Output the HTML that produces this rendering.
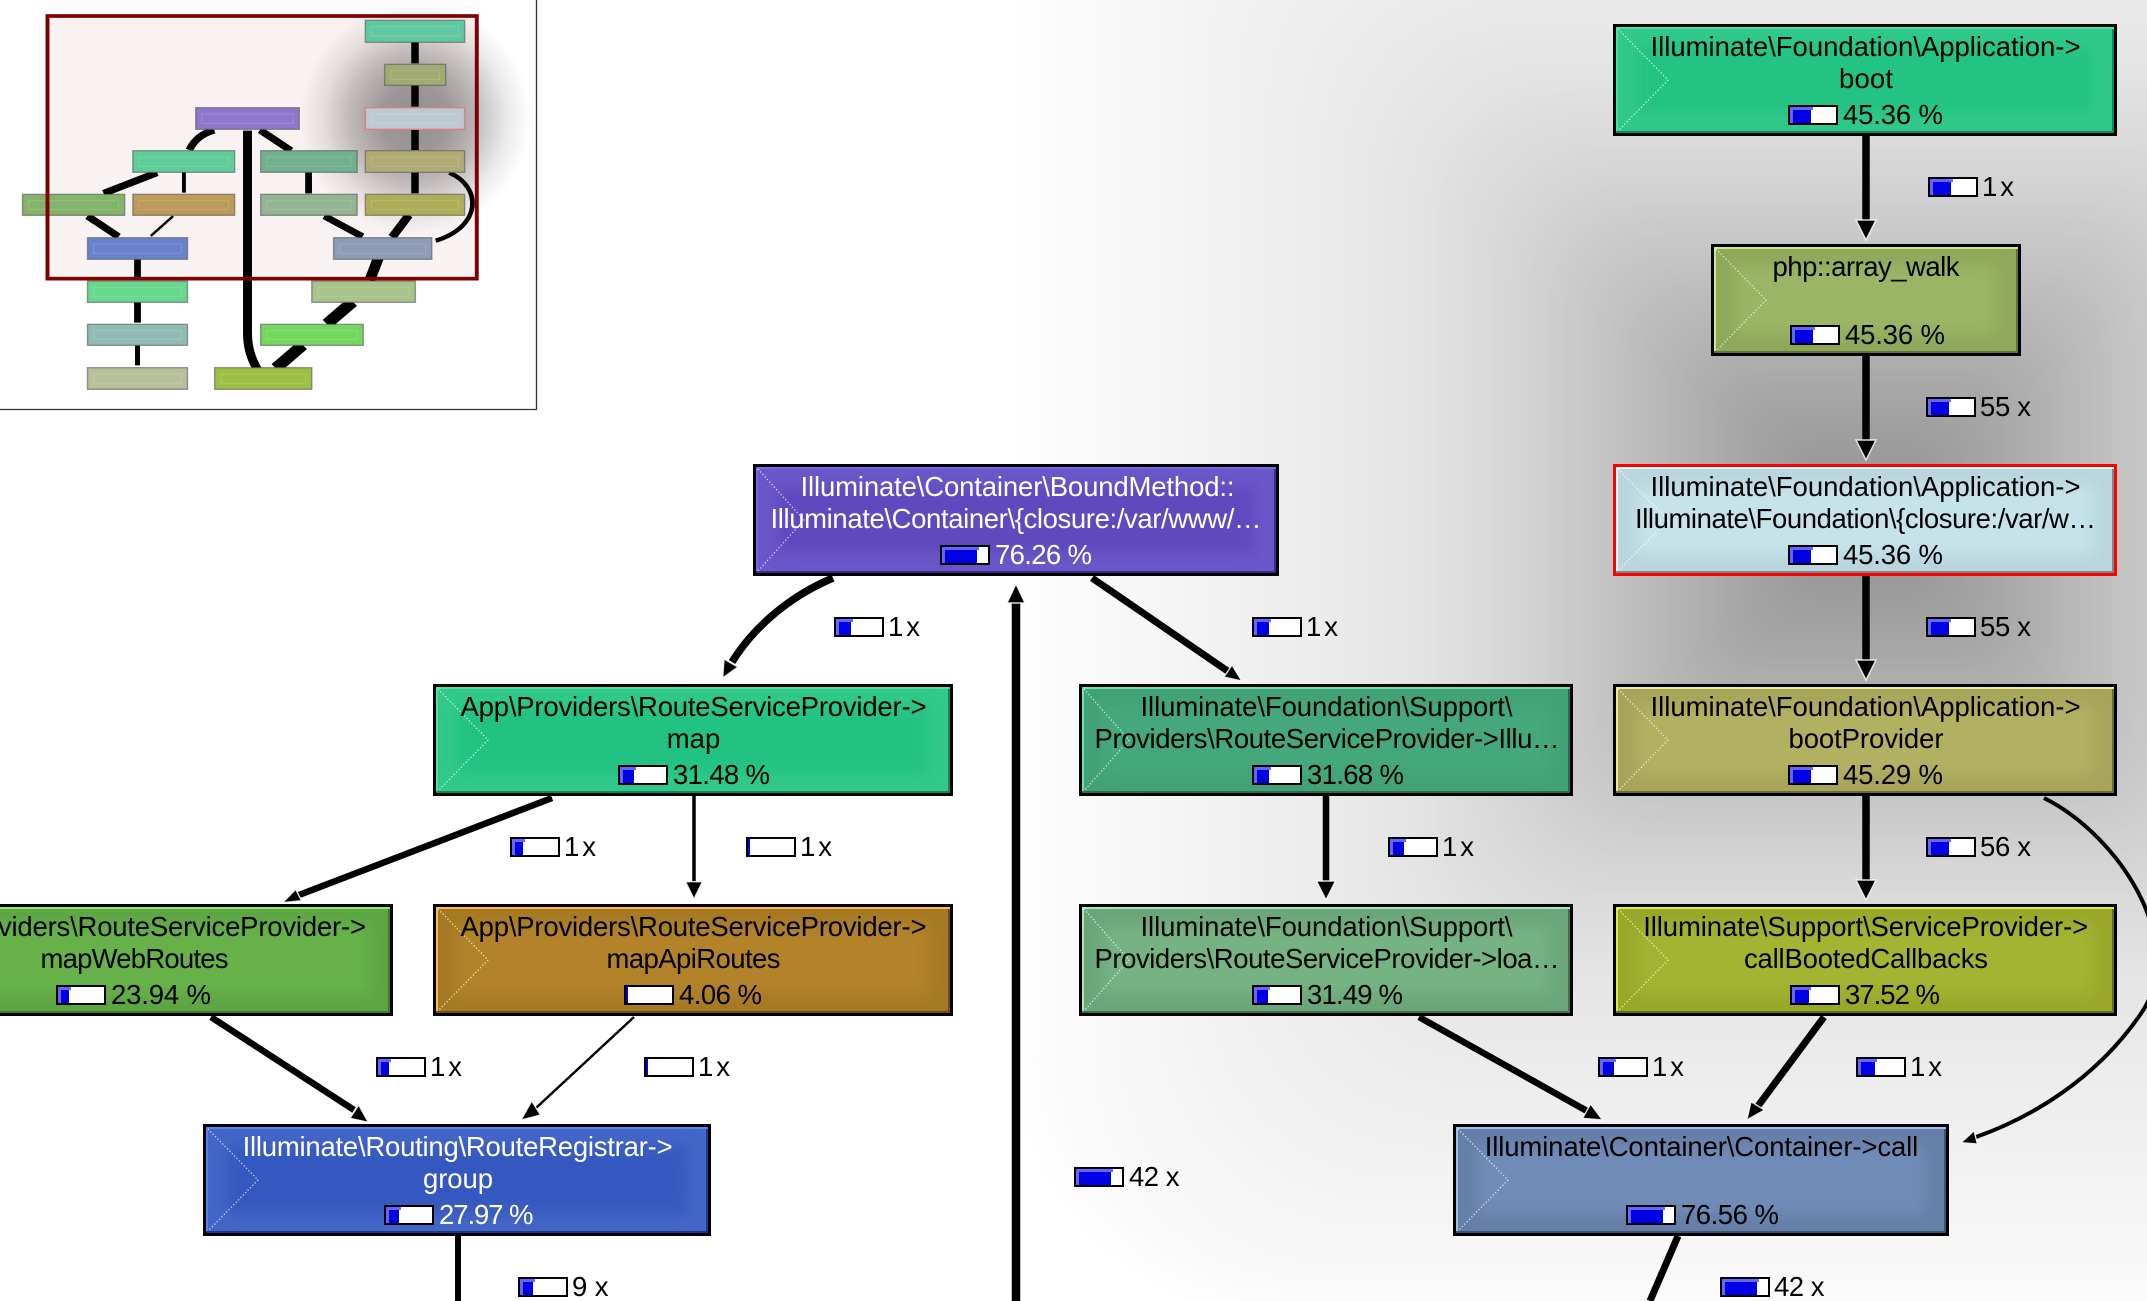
<!DOCTYPE html>
<html><head><meta charset="utf-8"><title>Call graph</title>
<style>
html,body{margin:0;padding:0;background:#fff;width:2147px;height:1301px;overflow:hidden}
svg{position:absolute;left:0;top:0;display:block}
text{font-family:"Liberation Sans",sans-serif;font-size:27.5px;fill:#000}
text.m{text-anchor:middle}
text.w{fill:#fff}
.e{fill:none;stroke:#000}
.h{fill:#000;stroke:#fff;stroke-width:1.4;stroke-opacity:.85}
.c{fill:none;stroke:#fff;stroke-width:1.2;stroke-dasharray:1.2 2.2;opacity:.85}
.k{fill:#000}.f{fill:#fff}.b{fill:#0000e6}.l{fill:#6666ff}
.n{stroke:#5a5a5a;stroke-width:4;stroke-opacity:.6}
.i{fill:none;stroke:#fff;stroke-opacity:.14;stroke-width:3}
</style></head>
<body>
<svg width="2147" height="1301" viewBox="0 0 2147 1301" xmlns="http://www.w3.org/2000/svg">
<defs>
<radialGradient id="ts" gradientUnits="userSpaceOnUse" cx="415" cy="118" r="116">
<stop offset="0" stop-color="#000" stop-opacity=".42"/><stop offset=".3" stop-color="#000" stop-opacity=".37"/><stop offset=".55" stop-color="#000" stop-opacity=".24"/><stop offset=".8" stop-color="#000" stop-opacity=".08"/><stop offset="1" stop-color="#000" stop-opacity="0"/>
</radialGradient>
<filter id="bl" x="-20%" y="-50%" width="140%" height="200%"><feGaussianBlur stdDeviation="7"/></filter>
<filter id="gl" filterUnits="userSpaceOnUse" x="900" y="-450" width="1950" height="1900"><feGaussianBlur stdDeviation="16"/></filter>
</defs>
<rect width="2147" height="1301" fill="#fff"/>

<!-- selected node glow -->
<g filter="url(#gl)">
<rect x="1000" y="-345" width="1730" height="1646" rx="260" fill="#ffffff"/>
<rect x="1025" y="-320" width="1680" height="1621" rx="252" fill="#fdfdfd"/>
<rect x="1050" y="-295" width="1630" height="1596" rx="245" fill="#fbfbfb"/>
<rect x="1075" y="-270" width="1580" height="1571" rx="237" fill="#fafafa"/>
<rect x="1100" y="-245" width="1530" height="1530" rx="230" fill="#f8f8f8"/>
<rect x="1125" y="-220" width="1480" height="1480" rx="222" fill="#f7f7f7"/>
<rect x="1150" y="-195" width="1430" height="1430" rx="215" fill="#f5f5f5"/>
<rect x="1175" y="-170" width="1380" height="1380" rx="207" fill="#f4f4f4"/>
<rect x="1200" y="-145" width="1330" height="1330" rx="200" fill="#f2f2f2"/>
<rect x="1225" y="-120" width="1280" height="1280" rx="192" fill="#f1f1f1"/>
<rect x="1250" y="-95" width="1230" height="1230" rx="185" fill="#efefef"/>
<rect x="1275" y="-70" width="1180" height="1180" rx="177" fill="#eeeeee"/>
<rect x="1300" y="-45" width="1130" height="1130" rx="170" fill="#ececec"/>
<rect x="1325" y="-20" width="1080" height="1080" rx="162" fill="#eaeaea"/>
<rect x="1350" y="5" width="1030" height="1030" rx="155" fill="#e8e8e8"/>
<rect x="1375" y="30" width="980" height="980" rx="147" fill="#e6e6e6"/>
<rect x="1400" y="55" width="930" height="930" rx="140" fill="#e4e4e4"/>
<rect x="1425" y="80" width="880" height="880" rx="132" fill="#e1e1e1"/>
<rect x="1450" y="105" width="830" height="830" rx="125" fill="#dddddd"/>
<rect x="1475" y="130" width="780" height="780" rx="117" fill="#dadada"/>
<rect x="1500" y="155" width="730" height="730" rx="110" fill="#d6d6d6"/>
<rect x="1525" y="180" width="680" height="680" rx="102" fill="#d1d1d1"/>
<rect x="1550" y="205" width="630" height="630" rx="95" fill="#cccccc"/>
<rect x="1575" y="230" width="580" height="580" rx="87" fill="#c7c7c7"/>
<rect x="1600" y="255" width="530" height="530" rx="80" fill="#c2c2c2"/>
<rect x="1625" y="280" width="480" height="480" rx="72" fill="#bcbcbc"/>
<rect x="1650" y="305" width="430" height="430" rx="65" fill="#b7b7b7"/>
<rect x="1675" y="330" width="380" height="380" rx="57" fill="#b1b1b1"/>
<rect x="1700" y="355" width="330" height="330" rx="50" fill="#acacac"/>
<rect x="1725" y="380" width="280" height="280" rx="42" fill="#a6a6a6"/>
<rect x="1750" y="405" width="230" height="230" rx="35" fill="#a2a2a2"/>
<rect x="1775" y="430" width="180" height="180" rx="27" fill="#9d9d9d"/>
<rect x="1795" y="450" width="140" height="140" rx="21" fill="#9a9a9a"/>
</g>

<!-- edges -->
<path class="e" stroke-width="7.5" d="M1866 136V222M1866 356V442M1866 576V662M1866 796V882"/>
<path class="h" d="M1866 240L1856 220H1876Z"/><path class="h" d="M1866 460L1856 440H1876Z"/><path class="h" d="M1866 680L1856 660H1876Z"/><path class="h" d="M1866 900L1856 880H1876Z"/>
<path class="e" stroke-width="7.5" d="M833 578C795 594 757 622 732 662"/><path class="h" d="M722.700 678L724 659L738 667Z"/>
<path class="e" stroke-width="7" d="M1092 578L1229 672"/><path class="h" d="M1241.800 681L1232 665L1224 677Z"/>
<path class="e" stroke-width="6.500" d="M552 798L299 895"/><path class="h" d="M282.600 902.700L295.700 889.300L301.500 900.700Z"/>
<path class="e" stroke-width="3.500" d="M694 796V884"/><path class="h" d="M694 899L685.500 881.700H702.500Z"/>
<path class="e" stroke-width="6.500" d="M1326 796V884"/><path class="h" d="M1326 900L1316.500 881H1335.500Z"/>
<path class="e" stroke-width="6.500" d="M211 1017L354 1110"/><path class="h" d="M368.400 1122.300L358.700 1105L350 1118.300Z"/>
<path class="e" stroke-width="2.500" d="M634 1017L536 1108"/><path class="h" d="M521 1120L531.700 1101L540.500 1115Z"/>
<path class="e" stroke-width="6.500" d="M1419 1017L1587 1111"/><path class="h" d="M1602.500 1120L1590.600 1104L1582.500 1118.300Z"/>
<path class="e" stroke-width="7" d="M1824 1017L1758 1106"/><path class="h" d="M1746.800 1120L1751 1101.700L1764.500 1110Z"/>
<path class="e" stroke-width="4" d="M2044 798C2120 836 2190 945 2140 1015C2095 1080 2030 1118 1976 1137"/><path class="h" d="M1961 1142.700L1974 1130.700L1977.400 1144Z"/>
<path class="e" stroke-width="6" d="M458 1236V1301"/>
<path class="e" stroke-width="8.500" d="M1016 601V1301"/><path class="h" d="M1016 584L1007 603H1025Z"/>
<path class="e" stroke-width="7" d="M1678 1236L1650 1301"/>

<!-- nodes -->
<g>
<rect class="k" x="1613" y="24" width="504" height="112"/><rect fill="#45e2a4" x="1616" y="27" width="498" height="106"/><rect fill="#0d8a5a" x="2112" y="29" width="2" height="104"/><rect fill="#0d8a5a" x="1616" y="131" width="498" height="2"/><rect fill="#31c98b" x="1618" y="29" width="494" height="102"/><rect fill="#20c383" filter="url(#bl)" x="1637" y="46" width="456" height="68"/><path class="c" d="M1618 29L1668 80L1618 131"/>
<text class="m" x="1865.500" y="56" textLength="430">Illuminate\Foundation\Application-&gt;</text><text class="m" x="1866" y="88" textLength="54">boot</text>
<rect class="k" x="1788" y="105" width="50" height="20"/><rect class="f" x="1790" y="107" width="46" height="16"/><rect class="b" x="1790" y="107" width="21" height="16"/><rect class="l" x="1790" y="107" width="23" height="3"/><rect class="l" x="1790" y="107" width="3" height="16"/><text x="1843" y="124" textLength="100">45.36 %</text>
</g>
<g>
<rect class="k" x="1711" y="244" width="310" height="112"/><rect fill="#cde888" x="1714" y="247" width="304" height="106"/><rect fill="#5f7538" x="2016" y="249" width="2" height="104"/><rect fill="#5f7538" x="1714" y="351" width="304" height="2"/><rect fill="#8fa85b" x="1716" y="249" width="300" height="102"/><rect fill="#9ab565" filter="url(#bl)" x="1735" y="266" width="262" height="68"/><path class="c" d="M1716 249L1766 300L1716 351"/>
<text class="m" x="1866" y="276" textLength="187">php::array_walk</text>
<rect class="k" x="1790" y="325" width="50" height="20"/><rect class="f" x="1792" y="327" width="46" height="16"/><rect class="b" x="1792" y="327" width="21" height="16"/><rect class="l" x="1792" y="327" width="23" height="3"/><rect class="l" x="1792" y="327" width="3" height="16"/><text x="1845" y="344" textLength="100">45.36 %</text>
</g>
<g>
<rect fill="#f00" x="1613" y="464" width="504" height="112"/><rect fill="#e0fafd" x="1616" y="467" width="498" height="106"/><rect fill="#79898c" x="2112" y="469" width="2" height="104"/><rect fill="#79898c" x="1616" y="571" width="498" height="2"/><rect fill="#b9d6dc" x="1618" y="469" width="494" height="102"/><rect fill="#c6e3e9" filter="url(#bl)" x="1637" y="486" width="456" height="68"/><path class="c" d="M1618 469L1668 520L1618 571"/>
<text class="m" x="1865.500" y="496" textLength="430">Illuminate\Foundation\Application-&gt;</text><text class="m" x="1865.500" y="528" textLength="461">Illuminate\Foundation\{closure:/var/w…</text>
<rect class="k" x="1788" y="545" width="50" height="20"/><rect class="f" x="1790" y="547" width="46" height="16"/><rect class="b" x="1790" y="547" width="21" height="16"/><rect class="l" x="1790" y="547" width="23" height="3"/><rect class="l" x="1790" y="547" width="3" height="16"/><text x="1843" y="564" textLength="100">45.36 %</text>
</g>
<g>
<rect class="k" x="753" y="464" width="526" height="112"/><rect fill="#7b66e8" x="756" y="467" width="520" height="106"/><rect fill="#3a2a8a" x="1274" y="469" width="2" height="104"/><rect fill="#3a2a8a" x="756" y="571" width="520" height="2"/><rect fill="#6b57c9" x="758" y="469" width="516" height="102"/><rect fill="#5f48bf" filter="url(#bl)" x="777" y="486" width="478" height="68"/><path class="c" d="M758 469L804 520L758 571"/>
<text class="m w" x="1017.500" y="496" textLength="434">Illuminate\Container\BoundMethod::</text><text class="m w" x="1016" y="528" textLength="491">Illuminate\Container\{closure:/var/www/…</text>
<rect class="k" x="940" y="545" width="50" height="20"/><rect class="f" x="942" y="547" width="46" height="16"/><rect class="b" x="942" y="547" width="35" height="16"/><rect class="l" x="942" y="547" width="37" height="3"/><rect class="l" x="942" y="547" width="3" height="16"/><text class="w" x="995" y="564" textLength="97">76.26 %</text>
</g>
<g>
<rect class="k" x="433" y="684" width="520" height="112"/><rect fill="#45e2a4" x="436" y="687" width="514" height="106"/><rect fill="#0d8a5a" x="948" y="689" width="2" height="104"/><rect fill="#0d8a5a" x="436" y="791" width="514" height="2"/><rect fill="#32c98b" x="438" y="689" width="510" height="102"/><rect fill="#22c283" filter="url(#bl)" x="457" y="706" width="472" height="68"/><path class="c" d="M438 689L488 740L438 791"/>
<text class="m" x="693.500" y="716" textLength="466">App\Providers\RouteServiceProvider-&gt;</text><text class="m" x="693.500" y="748">map</text>
<rect class="k" x="618" y="765" width="50" height="20"/><rect class="f" x="620" y="767" width="46" height="16"/><rect class="b" x="620" y="767" width="14" height="16"/><rect class="l" x="620" y="767" width="16" height="3"/><rect class="l" x="620" y="767" width="3" height="16"/><text x="673" y="784" textLength="97">31.48 %</text>
</g>
<g>
<rect class="k" x="1079" y="684" width="494" height="112"/><rect fill="#70e0b0" x="1082" y="687" width="488" height="106"/><rect fill="#2a6e4e" x="1568" y="689" width="2" height="104"/><rect fill="#2a6e4e" x="1082" y="791" width="488" height="2"/><rect fill="#42a277" x="1084" y="689" width="484" height="102"/><rect fill="#44a87b" filter="url(#bl)" x="1103" y="706" width="446" height="68"/><path class="c" d="M1084 689L1129 740L1084 791"/>
<text class="m" x="1326.500" y="716" textLength="372">Illuminate\Foundation\Support\</text><text class="m" x="1327" y="748" textLength="465">Providers\RouteServiceProvider-&gt;Illu…</text>
<rect class="k" x="1252" y="765" width="50" height="20"/><rect class="f" x="1254" y="767" width="46" height="16"/><rect class="b" x="1254" y="767" width="15" height="16"/><rect class="l" x="1254" y="767" width="17" height="3"/><rect class="l" x="1254" y="767" width="3" height="16"/><text x="1307" y="784" textLength="97">31.68 %</text>
</g>
<g>
<rect class="k" x="1613" y="684" width="504" height="112"/><rect fill="#ecec90" x="1616" y="687" width="498" height="106"/><rect fill="#6c6b30" x="2112" y="689" width="2" height="104"/><rect fill="#6c6b30" x="1616" y="791" width="498" height="2"/><rect fill="#a7a55a" x="1618" y="689" width="494" height="102"/><rect fill="#b2b162" filter="url(#bl)" x="1637" y="706" width="456" height="68"/><path class="c" d="M1618 689L1668 740L1618 791"/>
<text class="m" x="1865.500" y="716" textLength="430">Illuminate\Foundation\Application-&gt;</text><text class="m" x="1866" y="748" textLength="155">bootProvider</text>
<rect class="k" x="1788" y="765" width="50" height="20"/><rect class="f" x="1790" y="767" width="46" height="16"/><rect class="b" x="1790" y="767" width="21" height="16"/><rect class="l" x="1790" y="767" width="23" height="3"/><rect class="l" x="1790" y="767" width="3" height="16"/><text x="1843" y="784" textLength="100">45.29 %</text>
</g>
<g>
<rect class="k" x="-127" y="904" width="520" height="112"/><rect fill="#90e870" x="-124" y="907" width="514" height="106"/><rect fill="#3c7a2c" x="388" y="909" width="2" height="104"/><rect fill="#3c7a2c" x="-124" y="1011" width="514" height="2"/><rect fill="#5da645" x="-122" y="909" width="510" height="102"/><rect fill="#66b24a" filter="url(#bl)" x="-103" y="926" width="472" height="68"/>
<text class="m" x="133" y="936" textLength="466">App\Providers\RouteServiceProvider-&gt;</text><text class="m" x="134.500" y="968" textLength="188">mapWebRoutes</text>
<rect class="k" x="56" y="985" width="50" height="20"/><rect class="f" x="58" y="987" width="46" height="16"/><rect class="b" x="58" y="987" width="11" height="16"/><rect class="l" x="58" y="987" width="13" height="3"/><rect class="l" x="58" y="987" width="3" height="16"/><text x="111" y="1004" textLength="100">23.94 %</text>
</g>
<g>
<rect class="k" x="433" y="904" width="520" height="112"/><rect fill="#ffba50" x="436" y="907" width="514" height="106"/><rect fill="#6f5010" x="948" y="909" width="2" height="104"/><rect fill="#6f5010" x="436" y="1011" width="514" height="2"/><rect fill="#a67a24" x="438" y="909" width="510" height="102"/><rect fill="#b3832a" filter="url(#bl)" x="457" y="926" width="472" height="68"/><path class="c" d="M438 909L488 960L438 1011"/>
<text class="m" x="693.500" y="936" textLength="466">App\Providers\RouteServiceProvider-&gt;</text><text class="m" x="693.500" y="968" textLength="174">mapApiRoutes</text>
<rect class="k" x="624" y="985" width="50" height="20"/><rect class="f" x="626" y="987" width="46" height="16"/><rect class="b" x="626" y="987" width="2" height="16"/><text x="679" y="1004" textLength="83">4.06 %</text>
</g>
<g>
<rect class="k" x="1079" y="904" width="494" height="112"/><rect fill="#a6e8bc" x="1082" y="907" width="488" height="106"/><rect fill="#3f7050" x="1568" y="909" width="2" height="104"/><rect fill="#3f7050" x="1082" y="1011" width="488" height="2"/><rect fill="#6aa679" x="1084" y="909" width="484" height="102"/><rect fill="#74b383" filter="url(#bl)" x="1103" y="926" width="446" height="68"/><path class="c" d="M1084 909L1129 960L1084 1011"/>
<text class="m" x="1326.500" y="936" textLength="372">Illuminate\Foundation\Support\</text><text class="m" x="1327" y="968" textLength="465">Providers\RouteServiceProvider-&gt;loa…</text>
<rect class="k" x="1252" y="985" width="50" height="20"/><rect class="f" x="1254" y="987" width="46" height="16"/><rect class="b" x="1254" y="987" width="14" height="16"/><rect class="l" x="1254" y="987" width="16" height="3"/><rect class="l" x="1254" y="987" width="3" height="16"/><text x="1307" y="1004" textLength="96">31.49 %</text>
</g>
<g>
<rect class="k" x="1613" y="904" width="504" height="112"/><rect fill="#dcea4a" x="1616" y="907" width="498" height="106"/><rect fill="#60701a" x="2112" y="909" width="2" height="104"/><rect fill="#60701a" x="1616" y="1011" width="498" height="2"/><rect fill="#99a82a" x="1618" y="909" width="494" height="102"/><rect fill="#a3b432" filter="url(#bl)" x="1637" y="926" width="456" height="68"/><path class="c" d="M1618 909L1668 960L1618 1011"/>
<text class="m" x="1865.700" y="936" textLength="445">Illuminate\Support\ServiceProvider-&gt;</text><text class="m" x="1866" y="968" textLength="244">callBootedCallbacks</text>
<rect class="k" x="1790" y="985" width="50" height="20"/><rect class="f" x="1792" y="987" width="46" height="16"/><rect class="b" x="1792" y="987" width="17" height="16"/><rect class="l" x="1792" y="987" width="19" height="3"/><rect class="l" x="1792" y="987" width="3" height="16"/><text x="1845" y="1004" textLength="95">37.52 %</text>
</g>
<g>
<rect class="k" x="203" y="1124" width="508" height="112"/><rect fill="#5a80f0" x="206" y="1127" width="502" height="106"/><rect fill="#20368a" x="706" y="1129" width="2" height="104"/><rect fill="#20368a" x="206" y="1231" width="502" height="2"/><rect fill="#4366c8" x="208" y="1129" width="498" height="102"/><rect fill="#3558c0" filter="url(#bl)" x="227" y="1146" width="460" height="68"/><path class="c" d="M208 1129L258 1180L208 1231"/>
<text class="m w" x="457.600" y="1156" textLength="430">Illuminate\Routing\RouteRegistrar-&gt;</text><text class="m w" x="458" y="1188" textLength="70">group</text>
<rect class="k" x="384" y="1205" width="50" height="20"/><rect class="f" x="386" y="1207" width="46" height="16"/><rect class="b" x="386" y="1207" width="13" height="16"/><rect class="l" x="386" y="1207" width="15" height="3"/><rect class="l" x="386" y="1207" width="3" height="16"/><text class="w" x="439" y="1224" textLength="94.500">27.97 %</text>
</g>
<g>
<rect class="k" x="1453" y="1124" width="496" height="112"/><rect fill="#a0c0f0" x="1456" y="1127" width="490" height="106"/><rect fill="#3e5272" x="1944" y="1129" width="2" height="104"/><rect fill="#3e5272" x="1456" y="1231" width="490" height="2"/><rect fill="#657fa8" x="1458" y="1129" width="486" height="102"/><rect fill="#718bb8" filter="url(#bl)" x="1477" y="1146" width="448" height="68"/><path class="c" d="M1458 1129L1508 1180L1458 1231"/>
<text class="m" x="1701.500" y="1156" textLength="433.500">Illuminate\Container\Container-&gt;call</text>
<rect class="k" x="1626" y="1205" width="50" height="20"/><rect class="f" x="1628" y="1207" width="46" height="16"/><rect class="b" x="1628" y="1207" width="35" height="16"/><rect class="l" x="1628" y="1207" width="37" height="3"/><rect class="l" x="1628" y="1207" width="3" height="16"/><text x="1681" y="1224" textLength="98">76.56 %</text>
</g>

<!-- edge labels -->
<g>
<rect class="k" x="1928" y="177" width="50" height="20"/><rect class="f" x="1930" y="179" width="46" height="16"/><rect class="b" x="1930" y="179" width="21" height="16"/><rect class="l" x="1930" y="179" width="23" height="3"/><rect class="l" x="1930" y="179" width="3" height="16"/><text x="1982" y="196" textLength="32">1 x</text>
<rect class="k" x="1926" y="397" width="50" height="20"/><rect class="f" x="1928" y="399" width="46" height="16"/><rect class="b" x="1928" y="399" width="21" height="16"/><rect class="l" x="1928" y="399" width="23" height="3"/><rect class="l" x="1928" y="399" width="3" height="16"/><text x="1980" y="416" textLength="51">55 x</text>
<rect class="k" x="1926" y="617" width="50" height="20"/><rect class="f" x="1928" y="619" width="46" height="16"/><rect class="b" x="1928" y="619" width="21" height="16"/><rect class="l" x="1928" y="619" width="23" height="3"/><rect class="l" x="1928" y="619" width="3" height="16"/><text x="1980" y="636" textLength="51">55 x</text>
<rect class="k" x="1926" y="837" width="50" height="20"/><rect class="f" x="1928" y="839" width="46" height="16"/><rect class="b" x="1928" y="839" width="21" height="16"/><rect class="l" x="1928" y="839" width="23" height="3"/><rect class="l" x="1928" y="839" width="3" height="16"/><text x="1980" y="856" textLength="51">56 x</text>
<rect class="k" x="834" y="617" width="50" height="20"/><rect class="f" x="836" y="619" width="46" height="16"/><rect class="b" x="836" y="619" width="15" height="16"/><rect class="l" x="836" y="619" width="17" height="3"/><rect class="l" x="836" y="619" width="3" height="16"/><text x="888" y="636" textLength="32">1 x</text>
<rect class="k" x="1252" y="617" width="50" height="20"/><rect class="f" x="1254" y="619" width="46" height="16"/><rect class="b" x="1254" y="619" width="15" height="16"/><rect class="l" x="1254" y="619" width="17" height="3"/><rect class="l" x="1254" y="619" width="3" height="16"/><text x="1306" y="636" textLength="32">1 x</text>
<rect class="k" x="510" y="837" width="50" height="20"/><rect class="f" x="512" y="839" width="46" height="16"/><rect class="b" x="512" y="839" width="11" height="16"/><rect class="l" x="512" y="839" width="13" height="3"/><rect class="l" x="512" y="839" width="3" height="16"/><text x="564" y="856" textLength="32">1 x</text>
<rect class="k" x="746" y="837" width="50" height="20"/><rect class="f" x="748" y="839" width="46" height="16"/><rect class="b" x="748" y="839" width="2" height="16"/><text x="800" y="856" textLength="32">1 x</text>
<rect class="k" x="1388" y="837" width="50" height="20"/><rect class="f" x="1390" y="839" width="46" height="16"/><rect class="b" x="1390" y="839" width="14" height="16"/><rect class="l" x="1390" y="839" width="16" height="3"/><rect class="l" x="1390" y="839" width="3" height="16"/><text x="1442" y="856" textLength="32">1 x</text>
<rect class="k" x="376" y="1057" width="50" height="20"/><rect class="f" x="378" y="1059" width="46" height="16"/><rect class="b" x="378" y="1059" width="11" height="16"/><rect class="l" x="378" y="1059" width="13" height="3"/><rect class="l" x="378" y="1059" width="3" height="16"/><text x="430" y="1076" textLength="32">1 x</text>
<rect class="k" x="644" y="1057" width="50" height="20"/><rect class="f" x="646" y="1059" width="46" height="16"/><rect class="b" x="646" y="1059" width="2" height="16"/><text x="698" y="1076" textLength="32">1 x</text>
<rect class="k" x="1598" y="1057" width="50" height="20"/><rect class="f" x="1600" y="1059" width="46" height="16"/><rect class="b" x="1600" y="1059" width="14" height="16"/><rect class="l" x="1600" y="1059" width="16" height="3"/><rect class="l" x="1600" y="1059" width="3" height="16"/><text x="1652" y="1076" textLength="32">1 x</text>
<rect class="k" x="1856" y="1057" width="50" height="20"/><rect class="f" x="1858" y="1059" width="46" height="16"/><rect class="b" x="1858" y="1059" width="17" height="16"/><rect class="l" x="1858" y="1059" width="19" height="3"/><rect class="l" x="1858" y="1059" width="3" height="16"/><text x="1910" y="1076" textLength="32">1 x</text>
<rect class="k" x="1074" y="1167" width="50" height="20"/><rect class="f" x="1076" y="1169" width="46" height="16"/><rect class="b" x="1076" y="1169" width="35" height="16"/><rect class="l" x="1076" y="1169" width="37" height="3"/><rect class="l" x="1076" y="1169" width="3" height="16"/><text x="1129" y="1186" textLength="50.500">42 x</text>
<rect class="k" x="518" y="1277" width="50" height="20"/><rect class="f" x="520" y="1279" width="46" height="16"/><rect class="b" x="520" y="1279" width="13" height="16"/><rect class="l" x="520" y="1279" width="15" height="3"/><rect class="l" x="520" y="1279" width="3" height="16"/><text x="572" y="1296" textLength="36.500">9 x</text>
<rect class="k" x="1720" y="1277" width="50" height="20"/><rect class="f" x="1722" y="1279" width="46" height="16"/><rect class="b" x="1722" y="1279" width="35" height="16"/><rect class="l" x="1722" y="1279" width="37" height="3"/><rect class="l" x="1722" y="1279" width="3" height="16"/><text x="1774" y="1296" textLength="50.500">42 x</text>
</g>

<!-- thumbnail -->
<rect x="0" y="0" width="536" height="409" fill="#fff"/>
<circle cx="415" cy="118" r="116" fill="url(#ts)"/>
<g transform="scale(.35714 .33333)">
<rect x="133" y="48" width="1202" height="788" fill="#800000" fill-opacity=".05"/>
<g fill="none" stroke="#000">
<path stroke-width="21" d="M1162 118V190M1162 250V320M1162 380V450M1162 508V580"/>
<path stroke-width="19" d="M864 508V580M385 770V838M385 900V968"/>
<path stroke-width="11" d="M515 515V578"/>
<path stroke-width="14" d="M385 1032V1096"/>
<path stroke-width="21" d="M440 518L290 580M245 648L332 710M728 390L815 452M600 390Q550 405 530 450"/>
<path stroke-width="7" d="M485 648L422 708"/>
<path stroke-width="20" d="M908 648L1015 710"/>
<path stroke-width="24" d="M1145 645L1098 712"/>
<path stroke-width="30" d="M1060 772L1035 842"/>
<path stroke-width="34" d="M988 905L915 972M848 1035L772 1105"/>
<path stroke-width="25" d="M693 392V1000Q693 1060 722 1110"/>
<path stroke-width="13" d="M1258 518C1350 560 1350 680 1220 722"/>
</g>
<rect class="n" x="1023" y="61" width="278" height="66" fill="#60c8a0"/><rect class="i" x="1040" y="80" width="244" height="28"/>
<rect class="n" x="1077" y="193" width="171" height="63" fill="#a0ab72"/><rect class="i" x="1094" y="212" width="137" height="26"/>
<rect x="1023" y="323" width="278" height="65" fill="#bccad0" stroke="#e47a84" stroke-width="4"/><rect class="i" x="1040" y="342" width="244" height="28"/>
<rect class="n" x="548" y="323" width="290" height="65" fill="#8d78cc"/><rect class="i" x="565" y="342" width="256" height="28"/>
<rect class="n" x="372" y="452" width="285" height="65" fill="#60cc9a"/><rect class="i" x="389" y="471" width="251" height="28"/>
<rect class="n" x="730" y="452" width="270" height="65" fill="#72b090"/><rect class="i" x="747" y="471" width="236" height="28"/>
<rect class="n" x="1023" y="452" width="278" height="65" fill="#b0ac74"/><rect class="i" x="1040" y="471" width="244" height="28"/>
<rect class="n" x="63" y="583" width="286" height="63" fill="#84b46c"/><rect class="i" x="80" y="602" width="252" height="26"/>
<rect class="n" x="372" y="583" width="285" height="63" fill="#bc9a5a"/><rect class="i" x="389" y="602" width="251" height="26"/>
<rect class="n" x="730" y="583" width="270" height="63" fill="#94b494"/><rect class="i" x="747" y="602" width="236" height="26"/>
<rect class="n" x="1023" y="583" width="278" height="63" fill="#aeae58"/><rect class="i" x="1040" y="602" width="244" height="26"/>
<rect class="n" x="245" y="713" width="280" height="65" fill="#6a82cc"/><rect class="i" x="262" y="732" width="246" height="28"/>
<rect class="n" x="934" y="713" width="275" height="65" fill="#8e9cb8"/><rect class="i" x="951" y="732" width="241" height="28"/>
<rect class="n" x="245" y="843" width="280" height="64" fill="#68d890"/><rect class="i" x="262" y="862" width="246" height="27"/>
<rect class="n" x="873" y="843" width="290" height="64" fill="#a8c48c"/><rect class="i" x="890" y="862" width="256" height="27"/>
<rect class="n" x="245" y="973" width="280" height="63" fill="#90bcb4"/><rect class="i" x="262" y="992" width="246" height="26"/>
<rect class="n" x="730" y="973" width="287" height="63" fill="#72d85e"/><rect class="i" x="747" y="992" width="253" height="26"/>
<rect class="n" x="245" y="1103" width="280" height="65" fill="#b8c09a"/><rect class="i" x="262" y="1122" width="246" height="28"/>
<rect class="n" x="601" y="1103" width="272" height="65" fill="#9cc044"/><rect class="i" x="618" y="1122" width="238" height="28"/>
<rect x="133" y="48" width="1202" height="788" fill="none" stroke="#800000" stroke-width="11"/>
</g>
<path d="M536.500 0V409.500H0" fill="none" stroke="#333" stroke-width="1.300"/>
</svg>
</body></html>
